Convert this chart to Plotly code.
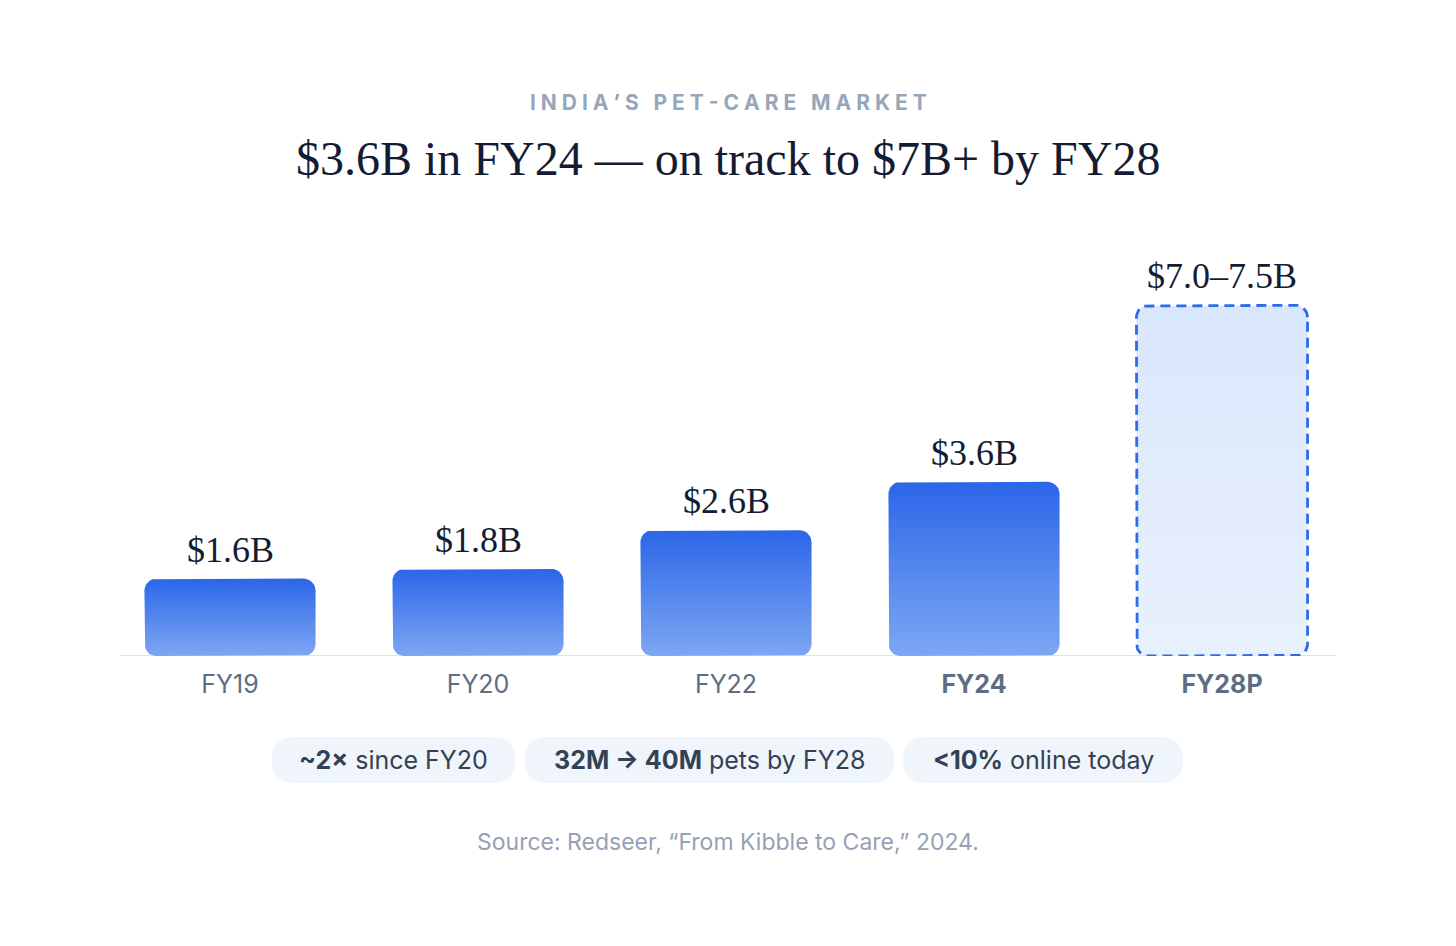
import numpy as np
import plotly.graph_objects as go

# data
years = ["FY19", "FY20", "FY22", "FY24", "FY28P"]
market_bn = [1.6, 1.8, 2.6, 3.6, 7.25]      # FY28P drawn at mid of 7.0-7.5
value_labels = ["$1.6B", "$1.8B", "$2.6B", "$3.6B", "$7.0–7.5B"]
is_projection = [False, False, False, False, True]
bold_ticks = [False, False, False, True, True]

pill_labels = [
    "<b>~2×</b> since FY20",
    "<b>32M → 40M</b> pets by FY28",
    "<b>&lt;10%</b> online today",
]

# page has an 8px body margin, so work in window pixels and shift
OFF = 8
WIN_W, WIN_H = 1456, 946
W, H = WIN_W - 2 * OFF, WIN_H - 2 * OFF
PLOT_L, PLOT_R, PLOT_T, BASE = 106, 1346, 240, 656   # window pixels
ML, MR = PLOT_L - OFF, W - (PLOT_R - OFF)
MT, MB = PLOT_T - OFF, H - (BASE - OFF)
PW, PH = W - ML - MR, H - MT - MB
YMAX = 8.6
BAR_W = 0.69
RADIUS = 12

SERIF = "Liberation Serif, Georgia, serif"
SANS = "Inter, Roboto, sans-serif"

px_x = PW / 5.0
px_y = PH / YMAX


def px2paper(x, y):
    return (x - OFF - ML) / PW, (H - MB - (y - OFF)) / PH


def rounded_bar(xc, top):
    rx, ry = RADIUS / px_x, RADIUS / px_y
    x0, x1 = xc - BAR_W / 2, xc + BAR_W / 2
    t = np.linspace(0, np.pi / 2, 10)
    xs, ys = [], []
    corners = [(x1 - rx, top - ry, 0), (x0 + rx, top - ry, np.pi / 2),
               (x0 + rx, ry, np.pi), (x1 - rx, ry, 1.5 * np.pi)]
    for cx, cy, a0 in corners:
        xs += list(cx + rx * np.cos(a0 + t))
        ys += list(cy + ry * np.sin(a0 + t))
    xs.append(xs[0])
    ys.append(ys[0])
    return xs, ys


def pill_path(x0, y0, x1, y1):
    r = (y1 - y0) / 2
    a, b = px2paper(x0 + r, y0)
    c, d = px2paper(x1 - r, y0)
    e, f = px2paper(x1, y0)
    g, h = px2paper(x1, y0 + r)
    i, j = px2paper(x1, y1)
    k, l = px2paper(x1 - r, y1)
    m, n = px2paper(x0 + r, y1)
    o, p = px2paper(x0, y1)
    q, s = px2paper(x0, y0 + r)
    u, v = px2paper(x0, y0)
    return (f"M {a} {b} L {c} {d} Q {e} {f} {g} {h} Q {i} {j} {k} {l} "
            f"L {m} {n} Q {o} {p} {q} {s} Q {u} {v} {a} {b} Z")


def note(x, y, text, font):
    px, py = px2paper(x, y)
    return dict(x=px, y=py, xref="paper", yref="paper", showarrow=False,
                xanchor="center", yanchor="middle", text=text, font=font)


fig = go.Figure()

for idx, (val, proj) in enumerate(zip(market_bn, is_projection)):
    xs, ys = rounded_bar(idx, val)
    if proj:
        fig.add_trace(go.Scatter(
            x=xs, y=ys, mode="lines", fill="toself",
            fillgradient=dict(type="vertical",
                              colorscale=[[0, "#e9f0fc"], [1, "#d9e7fc"]]),
            line=dict(color="#2f6be6", width=2.8, dash="10px,6px"),
            hoverinfo="skip", showlegend=False))
    else:
        fig.add_trace(go.Scatter(
            x=xs, y=ys, mode="lines", fill="toself",
            fillgradient=dict(type="vertical",
                              colorscale=[[0, "#7da7f3"], [1, "#2b66e8"]]),
            line=dict(width=0, color="rgba(0,0,0,0)"),
            hoverinfo="skip", showlegend=False))

annotations = []
for idx, (val, lab) in enumerate(zip(market_bn, value_labels)):
    annotations.append(dict(
        x=idx, y=val, xref="x", yref="y", text=lab, showarrow=False,
        xanchor="center", yanchor="bottom", yshift=7,
        font=dict(family=SERIF, size=36, color="#141c33")))

tick_text = [f"<b>{y}</b>" if b else y for y, b in zip(years, bold_ticks)]

# header
annotations.append(note(
    728, 102, "\u2009\u200a".join("INDIA’S PET-CARE MARKET"),
    dict(family=SANS, size=21, color="#97a6ba", weight=700)))
annotations.append(note(
    728, 158, "$3.6B in FY24 — on track to $7B+ by FY28",
    dict(family=SERIF, size=48, color="#141c33")))

# pills
pill_boxes = [(272, 515), (525, 894), (903, 1183)]
shapes = []
for (x0, x1), lab in zip(pill_boxes, pill_labels):
    shapes.append(dict(type="path", xref="paper", yref="paper",
                       path=pill_path(x0, 737, x1, 783),
                       fillcolor="#f0f5fc", line=dict(width=0), layer="below"))
    annotations.append(note((x0 + x1) / 2, 760, lab,
                            dict(family=SANS, size=25, color="#334155")))

annotations.append(note(
    728, 842, "Source: Redseer, “From Kibble to Care,” 2024.",
    dict(family=SANS, size=23, color="#95a1b5")))

# baseline
bx0, _ = px2paper(120, 0)
bx1, _ = px2paper(1336, 0)
shapes.append(dict(type="line", xref="paper", yref="y", x0=bx0, x1=bx1,
                   y0=0, y1=0, line=dict(color="#d5d9df", width=1.6),
                   layer="below"))

fig.update_layout(
    width=W, height=H,
    margin=dict(l=ML, r=MR, t=MT, b=MB),
    paper_bgcolor="white", plot_bgcolor="white",
    showlegend=False,
    xaxis=dict(range=[-0.5, 4.5], tickvals=list(range(len(years))),
               ticktext=tick_text, showgrid=False, zeroline=False,
               showline=False, ticks="outside", ticklen=6,
               tickcolor="rgba(0,0,0,0)",
               tickfont=dict(family=SANS, size=25, color="#5d6d83"),
               fixedrange=True),
    yaxis=dict(range=[0, YMAX], visible=False, fixedrange=True),
    annotations=annotations,
    shapes=shapes,
)

fig.write_html("out.html")
